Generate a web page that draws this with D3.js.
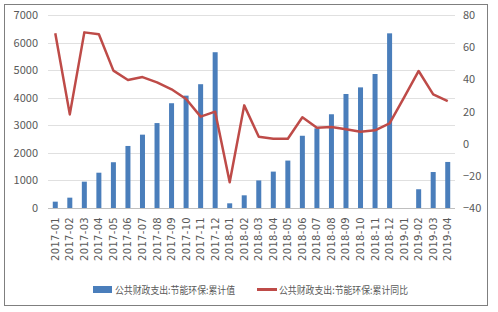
<!DOCTYPE html>
<html>
<head>
<meta charset="utf-8">
<script src="https://cdn.jsdelivr.net/npm/d3@7"></script>
<style>
  body { margin: 0; background: #fff; }
  svg text { font-family: "Liberation Sans Narrow", "Noto Sans CJK SC", sans-serif; fill: #595959; }
</style>
</head>
<body>
<svg id="chart"></svg>
<script>
// mois, valeurs cumulées (barres) et variation annuelle cumulée (ligne)
var mois = ["2017-01","2017-02","2017-03","2017-04","2017-05","2017-06","2017-07","2017-08","2017-09","2017-10","2017-11","2017-12",
  "2018-01","2018-02","2018-03","2018-04","2018-05","2018-06","2018-07","2018-08","2018-09","2018-10","2018-11","2018-12",
  "2019-01","2019-02","2019-03","2019-04"]
var cumul = [230, 375, 955, 1280, 1660, 2250, 2660, 3080, 3800, 4075, 4490, 5650,
  170, 460, 1000, 1320, 1720, 2620, 2890, 3400, 4135, 4375, 4860, 6335,
  null, 680, 1305, 1670]
var cumulYoY = [68.6, 18.2, 69.2, 68, 45.4, 39.6, 41.4, 38.1, 33.8, 27.8, 16.8, 19.9,
  -24, 23.8, 4.3, 3.1, 3.1, 16.4, 9.9, 10.3, 8.9, 7.4, 8.3, 12.6,
  28.8, 45.2, 30.7, 26.5]
var ticksGauche = [0, 1000, 2000, 3000, 4000, 5000, 6000, 7000]
var ticksDroite = [-40, -20, 0, 20, 40, 60, 80]
var legende = ["公共财政支出:节能环保:累计值", "公共财政支出:节能环保:累计同比"]

var bleu = "#4a7ebb", rouge = "#be4b48"

var canevas = d3.select("#chart").attr("width", 498).attr("height", 312)

// cadre
canevas.append("rect")
  .attr("x", 4.5).attr("y", 4.5).attr("width", 483).attr("height", 301)
  .attr("fill", "#fff").attr("stroke", "#7f7f7f").attr("stroke-width", 1)

var gauche = 48, droite = 455, haut = 15, bas = 208

var x = d3.scaleBand().domain(mois).range([gauche, droite])
var yG = d3.scaleLinear().domain([0, 7000]).range([bas, haut])
var yD = d3.scaleLinear().domain([-40, 80]).range([bas, haut])

// grille
canevas.append("g").selectAll("line")
  .data(ticksGauche)
  .enter()
  .append("line")
  .attr("x1", gauche).attr("x2", droite)
  .attr("y1", function(d){ return Math.round(yG(d)) + 0.5 })
  .attr("y2", function(d){ return Math.round(yG(d)) + 0.5 })
  .attr("stroke", function(d){ return d == 0 ? "#bfbfbf" : "#e0e0e0" })
  .attr("stroke-width", 1)

// axe gauche
var axeG = canevas.append("g")
  .attr("transform", "translate(" + (gauche - 10) + ",0)")
  .call(d3.axisLeft(yG).tickValues(ticksGauche).tickFormat(d3.format("d")).tickSize(0).tickPadding(0))
axeG.select(".domain").remove()
axeG.selectAll("text").style("font-size", "11px")

// axe droite
var axeD = canevas.append("g")
  .attr("transform", "translate(" + (droite + 8) + ",0)")
  .call(d3.axisRight(yD).tickValues(ticksDroite).tickFormat(d3.format("d")).tickSize(0).tickPadding(0))
axeD.select(".domain").remove()
axeD.selectAll("text").style("font-size", "11px")

// barres
var largeur = 5
canevas.append("g").selectAll("rect")
  .data(mois.map(function(m, i){ return [m, cumul[i]] }).filter(function(d){ return d[1] != null }))
  .enter()
  .append("rect")
  .attr("x", function(d){ return x(d[0]) + x.bandwidth() / 2 - largeur / 2 })
  .attr("y", function(d){ return yG(d[1]) })
  .attr("width", largeur)
  .attr("height", function(d){ return bas - yG(d[1]) })
  .attr("fill", bleu)

// ligne
var ligne = d3.line()
  .x(function(d, i){ return x(mois[i]) + x.bandwidth() / 2 })
  .y(function(d){ return yD(d) })
canevas.append("path")
  .datum(cumulYoY)
  .attr("d", ligne)
  .attr("fill", "none")
  .attr("stroke", rouge)
  .attr("stroke-width", 2.5)
  .attr("stroke-linejoin", "round")

// étiquettes de l'axe x, verticales
canevas.append("g").selectAll("text")
  .data(mois)
  .enter()
  .append("text")
  .text(function(d){ return d })
  .attr("transform", function(d){ return "translate(" + (x(d) + x.bandwidth() / 2 + 3.5) + ",217) rotate(-90)" })
  .attr("text-anchor", "end")
  .style("font-size", "10px")
  .style("font-family", "'DejaVu Sans', sans-serif")
  .style("letter-spacing", "0.3px")

// légende
canevas.append("rect")
  .attr("x", 93).attr("y", 286).attr("width", 19).attr("height", 7)
  .attr("fill", bleu)
canevas.append("text")
  .text(legende[0])
  .attr("x", 115).attr("y", 293.5)
  .attr("textLength", 120).attr("lengthAdjust", "spacingAndGlyphs")
  .style("font-size", "10.5px")
canevas.append("line")
  .attr("x1", 257).attr("x2", 277).attr("y1", 289.5).attr("y2", 289.5)
  .attr("stroke", rouge).attr("stroke-width", 3)
canevas.append("text")
  .text(legende[1])
  .attr("x", 279).attr("y", 293.5)
  .attr("textLength", 129).attr("lengthAdjust", "spacingAndGlyphs")
  .style("font-size", "10.5px")
</script>
</body>
</html>
